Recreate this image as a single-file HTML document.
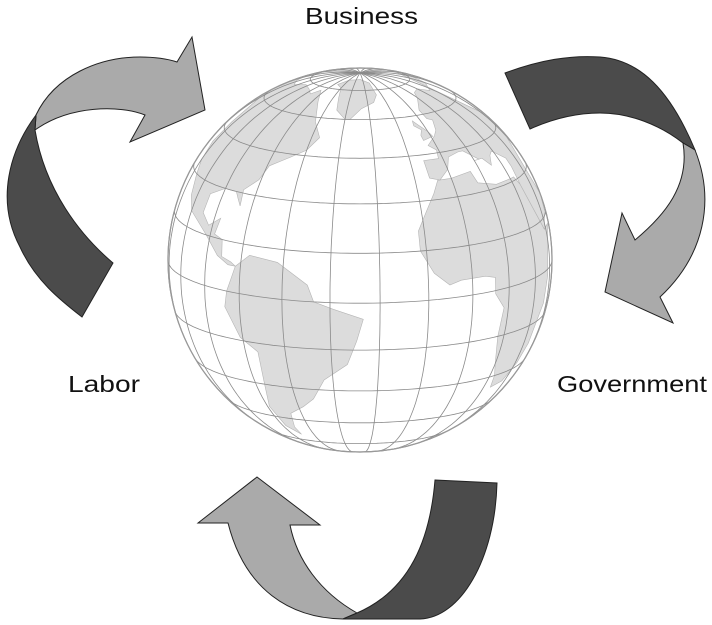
<!DOCTYPE html>
<html><head><meta charset="utf-8"><style>
html,body{margin:0;padding:0;background:#fff;width:712px;height:625px;overflow:hidden}
svg{display:block}
text{font-family:"Liberation Sans",sans-serif;font-size:23px;fill:#111}
</style></head><body>
<svg id="s" width="712" height="625" viewBox="0 0 712 625" xmlns="http://www.w3.org/2000/svg">
<defs><clipPath id="gc"><circle cx="360" cy="260" r="192"/></clipPath></defs>
<circle cx="360" cy="260" r="192" fill="#fff" stroke="#999" stroke-width="1.2"/>
<g id="land" clip-path="url(#gc)" fill="#dcdcdc" stroke="#b5b5b5" stroke-width="0.6"></g>
<g id="grid" clip-path="url(#gc)" fill="none" stroke="#8a8a8a" stroke-width="0.8"></g>
<circle cx="360" cy="260" r="192" fill="none" stroke="#999" stroke-width="1.2"/>
<g stroke="#222" stroke-width="1" stroke-linejoin="miter">
<path fill="#aaaaaa" d="M36,115 C55,75 100,57 140,57 C155,57 168,59 177,62 L192,37 L205,110 L130,142 L145,115 C120,105 70,105 35,130 Z"/>
<path fill="#4b4b4b" d="M36,115 C10,150 -5,200 20,247 C35,280 60,300 82,317 L113,263 C80,235 45,190 35,130 Z"/>
<path fill="#4b4b4b" d="M505,73 C540,60 570,55 600,57 C640,60 670,90 695,150 L683,143 C660,125 630,113 600,113 C575,113 550,120 530,129 Z"/>
<path fill="#aaaaaa" d="M695,150 C715,200 705,255 660,297 L673,323 L605,292 L622,213 L635,240 C665,215 690,185 683,143 Z"/>
<path fill="#aaaaaa" d="M257,477 L320,525 L290,525 C297,560 320,592 357,613 L343,619 C290,618 245,590 228,523 L198,523 Z"/>
<path fill="#4b4b4b" d="M435,480 L497,483 C495,560 460,618 420,619 L343,619 L357,613 C410,590 430,540 435,480 Z"/>
</g>
<text x="305" y="24" textLength="113" lengthAdjust="spacingAndGlyphs">Business</text>
<text x="68" y="392" textLength="72" lengthAdjust="spacingAndGlyphs">Labor</text>
<text x="557" y="392" textLength="150" lengthAdjust="spacingAndGlyphs">Government</text>
</svg>
<script>
(function(){
var cx=360,cy=260,r=192,p0=13*Math.PI/180,l0=-36;
var sp=Math.sin(p0),cp=Math.cos(p0);
function pr(lon,lat){var p=lat*Math.PI/180,d=(lon-l0)*Math.PI/180;
var x=Math.cos(p)*Math.sin(d),y=cp*Math.sin(p)-sp*Math.cos(p)*Math.cos(d),z=sp*Math.sin(p)+cp*Math.cos(p)*Math.cos(d);
if(z<0){var n=Math.sqrt(x*x+y*y)||1;x/=n;y/=n;}
return [cx+r*x,cy-r*y,z];}
function poly(a){return "M"+a.map(function(q){var p=pr(q[0],q[1]);return p[0].toFixed(1)+","+p[1].toFixed(1)}).join("L")+"Z";}
var L=[
[[-168,66],[-160,70],[-140,70],[-125,70],[-110,73],[-95,72],[-85,70],[-80,73],[-70,67],[-62,58],[-56,52],[-60,47],[-66,44],[-70,42],[-74,40],[-76,35],[-81,31],[-80,26],[-82,28],[-84,30],[-90,30],[-97,27],[-97,21],[-92,18],[-87,21],[-88,16],[-84,15],[-83,10],[-79,9],[-77,8],[-80,8],[-85,10],[-92,15],[-105,20],[-110,24],[-115,30],[-120,34],[-124,40],[-124,48],[-135,58],[-150,60],[-165,62]],
[[-77,8],[-72,12],[-62,11],[-52,5],[-50,0],[-44,-2],[-35,-5],[-37,-12],[-40,-20],[-48,-26],[-53,-34],[-58,-38],[-65,-42],[-68,-50],[-68,-55],[-73,-50],[-74,-40],[-71,-30],[-70,-18],[-76,-14],[-81,-5],[-80,0],[-78,5]],
[[-45,60],[-52,64],[-55,70],[-60,76],[-70,78],[-60,82],[-35,83],[-20,80],[-20,72],[-25,68],[-35,65],[-42,60]],
[[-17,15],[-17,21],[-13,27],[-9,32],[-6,36],[0,36],[10,37],[11,33],[20,31],[30,31],[33,31],[35,28],[43,12],[51,12],[42,-2],[40,-10],[35,-22],[32,-28],[27,-34],[20,-35],[18,-30],[15,-25],[12,-15],[13,-6],[9,-1],[9,4],[5,5],[-4,5],[-8,4],[-13,8]],
[[-9,37],[-9,43],[-2,43],[-1,46],[-4,48],[2,51],[5,53],[8,57],[5,58],[5,62],[14,67],[20,70],[30,71],[40,68],[60,70],[80,73],[100,75],[90,40],[60,40],[52,24],[58,20],[52,16],[43,12],[35,28],[36,34],[36,37],[29,41],[26,40],[23,37],[20,40],[15,40],[18,40],[12,44],[9,44],[3,43],[0,39],[-5,36]],
[[-5,50],[1,51],[0,53],[-3,56],[-5,58],[-6,56],[-3,54],[-5,52]]
];
var g=document.getElementById("land"),h="";
L.forEach(function(a){h+='<path d="'+poly(a)+'"/>';});
g.innerHTML=h;
var gr=document.getElementById("grid"),s="";
function line(pts){var d="",pen=false;pts.forEach(function(q){var p=pr(q[0],q[1]);if(p[2]>=0){d+=(pen?"L":"M")+p[0].toFixed(1)+","+p[1].toFixed(1);pen=true;}else pen=false;});return d;}
for(var lon=-180;lon<180;lon+=15){var pts=[];for(var la=-90;la<=90;la+=2)pts.push([lon,la]);s+='<path d="'+line(pts)+'"/>';}
for(var la=-75;la<=75;la+=15){var pts=[];for(var lo=-180;lo<=180;lo+=2)pts.push([lo,la]);s+='<path d="'+line(pts)+'"/>';}
gr.innerHTML=s;
})();
</script>
</body></html>
